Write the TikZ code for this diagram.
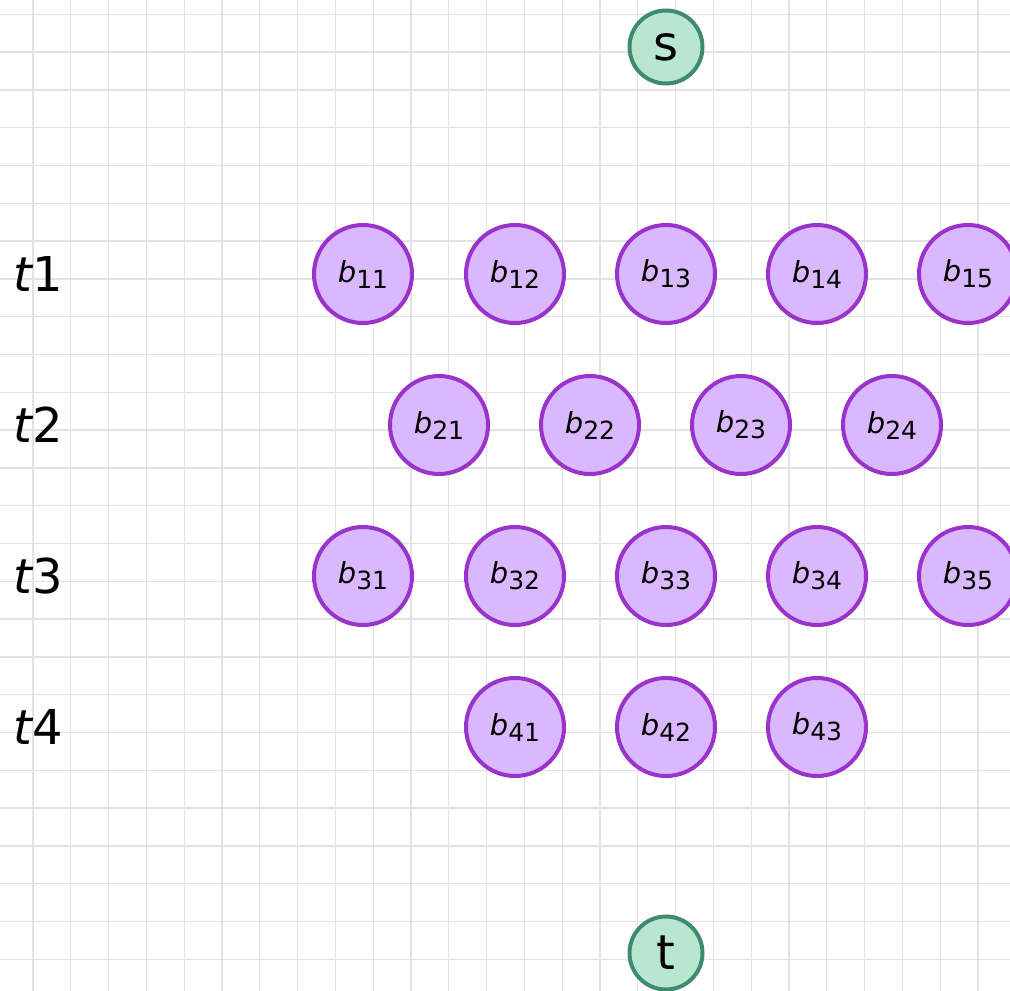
\documentclass[tikz,border=0pt]{standalone}
\usepackage{fontspec}
\setmainfont{DejaVu Sans}
\definecolor{gridc}{HTML}{E2E2E2}
\definecolor{bfill}{HTML}{D9B8FF}
\definecolor{bstroke}{HTML}{9933CC}
\definecolor{gfill}{HTML}{B8E6D0}
\definecolor{gstroke}{HTML}{3F8B70}
\newcommand{\bl}[1]{{\fontsize{29}{31}\selectfont\itshape b}\raisebox{-6pt}{\fontsize{25}{27}\selectfont #1}}
\begin{document}
\begin{tikzpicture}[x=1pt,y=-1pt,
  gridline/.style={draw=gridc,line width=1.3pt},
  bnode/.style={circle,draw=bstroke,fill=bfill,line width=4pt,minimum size=98pt,inner sep=0pt},
  gnode/.style={circle,draw=gstroke,fill=gfill,line width=4pt,minimum size=73pt,inner sep=0pt,font=\fontsize{48}{50}\selectfont},
  rowlabel/.style={inner sep=0pt,font=\fontsize{48}{50}\selectfont}]
\useasboundingbox (0,0) rectangle (1010,991);
\fill[white] (0,0) rectangle (1010,991);
\foreach \i in {0,...,25} {
  \draw[gridline] ({33+\i*37.8},0) -- ({33+\i*37.8},991);
  \draw[gridline] (0,{14.3+\i*37.8}) -- (1010,{14.3+\i*37.8});
}
\node[gnode] (s) at (666,47) {s};
\node[gnode] (t) at (666,953) {t};
\node[rowlabel] (t1) at (38,274) {{\itshape t}1};
\node[rowlabel] (t2) at (38,425) {{\itshape t}2};
\node[rowlabel] (t3) at (38,576) {{\itshape t}3};
\node[rowlabel] (t4) at (38,727) {{\itshape t}4};
\node[bnode] (b11) at (363,274) {\bl{11}};
\node[bnode] (b12) at (515,274) {\bl{12}};
\node[bnode] (b13) at (666,274) {\bl{13}};
\node[bnode] (b14) at (817,274) {\bl{14}};
\node[bnode] (b15) at (968,274) {\bl{15}};
\node[bnode] (b21) at (439,425) {\bl{21}};
\node[bnode] (b22) at (590,425) {\bl{22}};
\node[bnode] (b23) at (741,425) {\bl{23}};
\node[bnode] (b24) at (892,425) {\bl{24}};
\node[bnode] (b31) at (363,576) {\bl{31}};
\node[bnode] (b32) at (515,576) {\bl{32}};
\node[bnode] (b33) at (666,576) {\bl{33}};
\node[bnode] (b34) at (817,576) {\bl{34}};
\node[bnode] (b35) at (968,576) {\bl{35}};
\node[bnode] (b41) at (515,727) {\bl{41}};
\node[bnode] (b42) at (666,727) {\bl{42}};
\node[bnode] (b43) at (817,727) {\bl{43}};
\end{tikzpicture}
\end{document}
